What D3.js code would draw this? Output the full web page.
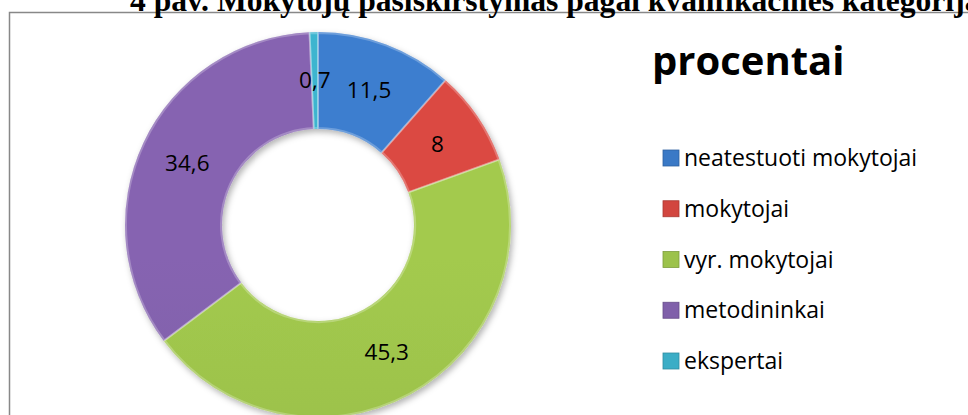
<!DOCTYPE html>
<html>
<head>
<meta charset="utf-8">
<script src="https://cdn.jsdelivr.net/npm/d3@7"></script>
<style>
  body { margin: 0; background: #fff; }
  svg { display: block; }
</style>
</head>
<body>
<svg id="chart" width="968" height="415"></svg>
<script>
// Data
const categories = ["neatestuoti mokytojai", "mokytojai", "vyr. mokytojai", "metodininkai", "ekspertai"];
const values = [11.5, 8, 45.3, 34.6, 0.7];
const valueLabels = ["11,5", "8", "45,3", "34,6", "0,7"];
const colors = ["#3a79c6", "#d2463f", "#9cc24b", "#8060aa", "#3badc6"];
const titleText = "4 pav. Mokytojų pasiskirstymas pagal kvalifikacines kategorijas";
const legendTitle = "procentai";

const width = 968, height = 415;
const cx = 318, cy = 225;
const outerR = 193, innerR = 96;

const svg = d3.select("#chart");
const defs = svg.append("defs");

// soft shadow under the ring
const shadow = defs.append("filter").attr("id", "shadow")
    .attr("x", "-10%").attr("y", "-10%").attr("width", "130%").attr("height", "130%");
shadow.append("feDropShadow")
    .attr("dx", 2).attr("dy", 3).attr("stdDeviation", 3)
    .attr("flood-color", "#000").attr("flood-opacity", 0.3);

// light from the top, one gradient per colour
colors.forEach((c, i) => {
    const g = defs.append("linearGradient").attr("id", "grad" + i)
        .attr("gradientUnits", "userSpaceOnUse")
        .attr("x1", 0).attr("y1", cy - outerR).attr("x2", 0).attr("y2", cy + outerR);
    g.append("stop").attr("offset", "0%").attr("stop-color", d3.color(c).brighter(0.12));
    g.append("stop").attr("offset", "100%").attr("stop-color", d3.color(c).darker(0.15));
});

// frame
svg.append("rect")
    .attr("x", 9.5).attr("y", 12.5)
    .attr("width", 980).attr("height", 420)
    .attr("fill", "none").attr("stroke", "#888").attr("stroke-width", 1.5);

// title, top partly clipped like the source
const title = svg.append("text")
    .attr("x", 130).attr("y", 11)
    .attr("font-family", "Liberation Serif, Times New Roman, serif")
    .attr("font-weight", "bold")
    .attr("font-size", 24)
    .attr("fill", "#000")
    .text("4 pav. Mokytojų pasiskirstymas pagal kvalifikacines kategorij");
const w = title.node().getComputedTextLength();
title.attr("font-size", 24 * 835 / w).text(titleText);

const pie = d3.pie().sort(null).value(d => d);
const arcs = pie(values);
const arc = d3.arc().innerRadius(innerR).outerRadius(outerR);

const ring = svg.append("g")
    .attr("transform", `translate(${cx},${cy})`);

const slices = ring.append("g").attr("filter", "url(#shadow)");
slices.selectAll("path")
    .data(arcs)
    .join("path")
    .attr("d", arc)
    .attr("fill", (d, i) => `url(#grad${i})`);

// bevel highlight
ring.append("g").selectAll("path")
    .data(arcs)
    .join("path")
    .attr("d", d3.arc().innerRadius(innerR + 1).outerRadius(outerR - 1))
    .attr("fill", "none")
    .attr("stroke", "rgba(255,255,255,0.25)")
    .attr("stroke-width", 2);

ring.append("g").selectAll("text")
    .data(arcs)
    .join("text")
    .attr("transform", d => `translate(${arc.centroid(d)})`)
    .attr("text-anchor", "middle")
    .attr("dy", "0.35em")
    .attr("font-family", "Open Sans, sans-serif")
    .attr("font-size", 22.5)
    .attr("fill", "#000")
    .text((d, i) => valueLabels[i]);

// legend
svg.append("text")
    .attr("x", 652).attr("y", 75)
    .attr("font-family", "Open Sans, sans-serif")
    .attr("font-weight", "bold")
    .attr("font-size", 40)
    .attr("fill", "#000")
    .text(legendTitle);

const legendY = d3.scalePoint().domain(categories).range([158, 361]);

const legend = svg.append("g").selectAll("g")
    .data(categories)
    .join("g")
    .attr("transform", d => `translate(663,${legendY(d)})`);

legend.append("rect")
    .attr("x", 0).attr("y", -8)
    .attr("width", 16).attr("height", 16)
    .attr("fill", (d, i) => colors[i])
    .attr("stroke", (d, i) => d3.color(colors[i]).darker(0.6))
    .attr("stroke-width", 0.8);

legend.append("text")
    .attr("x", 21).attr("dy", "0.35em")
    .attr("font-family", "Open Sans, sans-serif")
    .attr("font-size", 23)
    .attr("fill", "#000")
    .text(d => d);
</script>
</body>
</html>
